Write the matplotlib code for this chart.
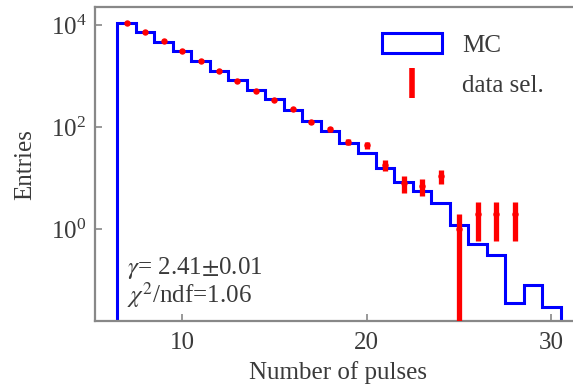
import numpy as np
import matplotlib
matplotlib.use("Agg")
import matplotlib.pyplot as plt
import matplotlib.patches as mpatches
from matplotlib.lines import Line2D

plt.rcParams['font.family'] = ['Liberation Serif', 'DejaVu Serif']
plt.rcParams['mathtext.fontset'] = 'stix'

# pulse multiplicity, one bin per integer
pulses = np.arange(7, 31)
mc_counts = [11100, 7400, 4710, 3090, 1970, 1250, 835, 531, 348, 215, 131, 83.5,
             48, 31, 16, 8.5, 5.6, 3.2, 1.2, 0.50, 0.31, 0.036, 0.080, 0.029]

data_pulses = np.arange(7, 29)
data_counts = np.array([11100, 7390, 4850, 3090, 1990, 1270, 798, 515, 338, 222, 127, 91,
                        51, 44, 18, 8, 7, 11, 1, 2, 2, 2], dtype=float)

gamma_text = r'$\gamma$= 2.41$\pm$0.01'
chi2_text = r'$\chi^2$/ndf=1.06'

text_col = '#3a3a3a'
spine_col = '#888888'

fig = plt.figure(figsize=(5.73, 3.87), dpi=100)
ax = fig.add_axes([0.165, 0.1705, 1.014 - 0.165, 0.811])

edges = np.append(pulses - 0.5, pulses[-1] + 0.5)
ax.stairs(mc_counts, edges, baseline=1e-4, color='blue', lw=2.2)

# poisson errors; the lower bar of a single count runs off the bottom
err = np.sqrt(data_counts)
err_low = np.minimum(err, data_counts - 1e-4)
ax.errorbar(data_pulses, data_counts, yerr=[err_low, err], fmt='o', color='red',
            ms=3.6, elinewidth=3.8, capsize=0, zorder=3)

ax.set_yscale('log')
ax.set_ylim(0.0157, 22500)
ax.set_xlim(5.26, 31.6)
ax.set_yticks([1, 100, 1e4])
ax.set_xticks([10, 20, 30])
ax.minorticks_off()

ax.tick_params(direction='in', length=5, width=1.2, color=spine_col,
               labelsize=18, labelcolor=text_col, pad=6)
ax.tick_params(axis='x', pad=8)
for s in ax.spines.values():
    s.set_color(spine_col)
    s.set_linewidth(1.6)

ax.set_xlabel('Number of pulses', fontsize=18, color=text_col, labelpad=5)
ax.set_ylabel('Entries', fontsize=18, color=text_col, labelpad=10)

ax.text(0.067, 0.150, gamma_text, transform=ax.transAxes, fontsize=18,
        color=text_col, va='baseline')
ax.text(0.067, 0.057, chi2_text, transform=ax.transAxes, fontsize=18,
        color=text_col, va='baseline')

handles = [mpatches.Patch(facecolor='none', edgecolor='blue', lw=2.2),
           Line2D([], [], color='red', marker='|', ms=21, mew=4, ls='none')]
ax.legend(handles, ['MC', 'data sel.'], loc='upper left',
          bbox_to_anchor=(382 / 573, 1 - 33 / 387), bbox_transform=fig.transFigure,
          frameon=False, fontsize=18, handlelength=2.4, handleheight=0.88,
          handletextpad=0.8, labelspacing=0.66, borderpad=0, borderaxespad=0,
          numpoints=1, labelcolor=text_col)

fig.savefig('out.png', dpi=100)
